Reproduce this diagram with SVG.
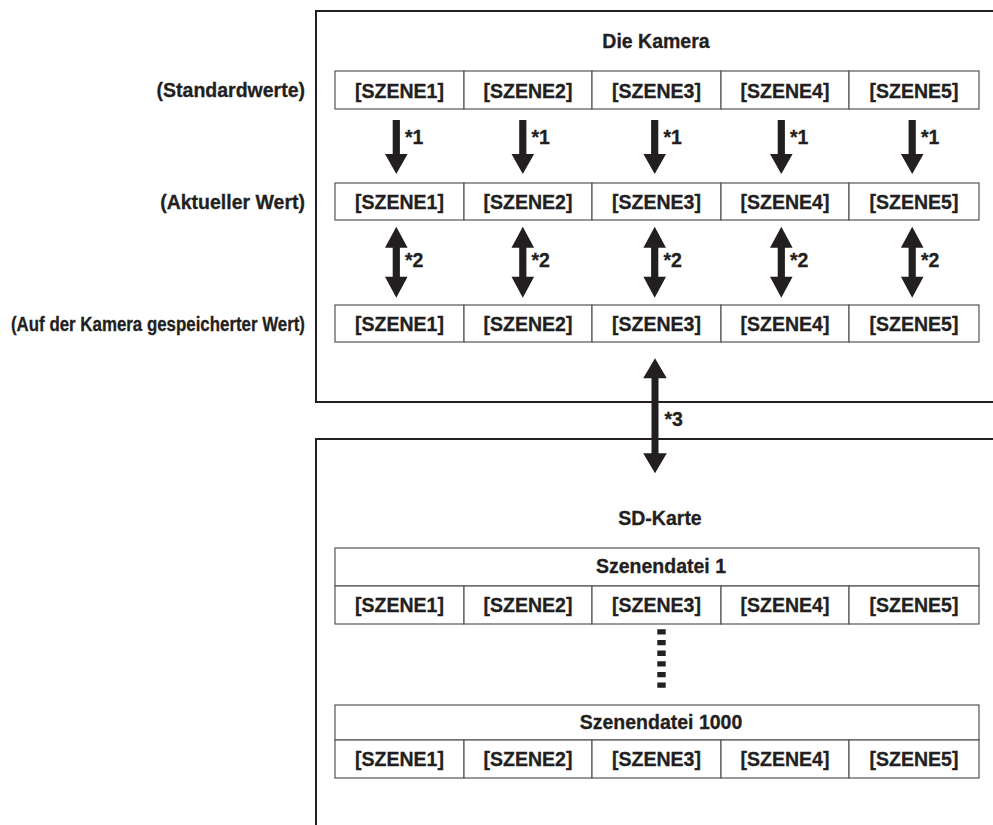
<svg xmlns="http://www.w3.org/2000/svg" width="993" height="825" viewBox="0 0 993 825">
<style>
text{font-family:"Liberation Sans",Arial,sans-serif;font-weight:bold;font-size:19.5px;fill:#231f20;stroke:#231f20;stroke-width:0.3}
.c{text-anchor:middle}
.r{text-anchor:end}
.cell{fill:#fff;stroke:#555;stroke-width:1.2}
.frame{fill:none;stroke:#231f20;stroke-width:2}
.arr{fill:#231f20}
</style>
<defs>
<path id="down" d="M-3.6,0 H3.6 V34 H11.3 L0,54 L-11.3,34 H-3.6 Z"/>
<path id="dbl" d="M0,0 L11.3,21 H3.6 V50 H11.3 L0,71 L-11.3,50 H-3.6 V21 H-11.3 Z"/>
<path id="dbl3" d="M0,0 L11.8,20 H3.5 V95 H11.8 L0,115 L-11.8,95 H-3.5 V20 H-11.8 Z"/>
</defs>
<rect width="993" height="825" fill="#fff"/>

<g id="camera-frame">
<path class="frame" d="M993,11 H316 V402 H993"/>
<text class="c" x="656" y="48">Die Kamera</text>
</g>
<g id="sd-frame">
<path class="frame" d="M993,439 H316 V825"/>
<text class="c" x="660" y="525">SD-Karte</text>
</g>

<g id="labels">
<text class="r" x="305" y="97">(Standardwerte)</text>
<text class="r" x="305" y="209">(Aktueller Wert)</text>
<text class="r" x="305" y="331" textLength="294" lengthAdjust="spacingAndGlyphs">(Auf der Kamera gespeicherter Wert)</text>
</g>

<g id="row-default">
<g id="d1"><rect class="cell" x="335" y="71" width="129" height="38"/><text class="c" x="399.5" y="97.5">[SZENE1]</text></g>
<g id="d2"><rect class="cell" x="464" y="71" width="128" height="38"/><text class="c" x="528" y="97.5">[SZENE2]</text></g>
<g id="d3"><rect class="cell" x="592" y="71" width="129" height="38"/><text class="c" x="656.5" y="97.5">[SZENE3]</text></g>
<g id="d4"><rect class="cell" x="721" y="71" width="128" height="38"/><text class="c" x="785" y="97.5">[SZENE4]</text></g>
<g id="d5"><rect class="cell" x="849" y="71" width="130" height="38"/><text class="c" x="914" y="97.5">[SZENE5]</text></g>
</g>

<g id="row-current">
<g id="a1"><rect class="cell" x="335" y="183" width="129" height="37"/><text class="c" x="399.5" y="209">[SZENE1]</text></g>
<g id="a2"><rect class="cell" x="464" y="183" width="128" height="37"/><text class="c" x="528" y="209">[SZENE2]</text></g>
<g id="a3"><rect class="cell" x="592" y="183" width="129" height="37"/><text class="c" x="656.5" y="209">[SZENE3]</text></g>
<g id="a4"><rect class="cell" x="721" y="183" width="128" height="37"/><text class="c" x="785" y="209">[SZENE4]</text></g>
<g id="a5"><rect class="cell" x="849" y="183" width="130" height="37"/><text class="c" x="914" y="209">[SZENE5]</text></g>
</g>

<g id="row-stored">
<g id="s1"><rect class="cell" x="335" y="305" width="129" height="37"/><text class="c" x="399.5" y="331">[SZENE1]</text></g>
<g id="s2"><rect class="cell" x="464" y="305" width="128" height="37"/><text class="c" x="528" y="331">[SZENE2]</text></g>
<g id="s3"><rect class="cell" x="592" y="305" width="129" height="37"/><text class="c" x="656.5" y="331">[SZENE3]</text></g>
<g id="s4"><rect class="cell" x="721" y="305" width="128" height="37"/><text class="c" x="785" y="331">[SZENE4]</text></g>
<g id="s5"><rect class="cell" x="849" y="305" width="130" height="37"/><text class="c" x="914" y="331">[SZENE5]</text></g>
</g>

<g id="file1">
<rect class="cell" x="335" y="548" width="644" height="38"/><text class="c" x="661" y="572.5">Szenendatei 1</text>
<g id="f1-1"><rect class="cell" x="335" y="586" width="129" height="38"/><text class="c" x="399.5" y="612">[SZENE1]</text></g>
<g id="f1-2"><rect class="cell" x="464" y="586" width="128" height="38"/><text class="c" x="528" y="612">[SZENE2]</text></g>
<g id="f1-3"><rect class="cell" x="592" y="586" width="129" height="38"/><text class="c" x="656.5" y="612">[SZENE3]</text></g>
<g id="f1-4"><rect class="cell" x="721" y="586" width="128" height="38"/><text class="c" x="785" y="612">[SZENE4]</text></g>
<g id="f1-5"><rect class="cell" x="849" y="586" width="130" height="38"/><text class="c" x="914" y="612">[SZENE5]</text></g>
</g>

<g id="file1000">
<rect class="cell" x="335" y="705" width="644" height="35"/><text class="c" x="661" y="728.5">Szenendatei 1000</text>
<g id="f2-1"><rect class="cell" x="335" y="740" width="129" height="38"/><text class="c" x="399.5" y="766">[SZENE1]</text></g>
<g id="f2-2"><rect class="cell" x="464" y="740" width="128" height="38"/><text class="c" x="528" y="766">[SZENE2]</text></g>
<g id="f2-3"><rect class="cell" x="592" y="740" width="129" height="38"/><text class="c" x="656.5" y="766">[SZENE3]</text></g>
<g id="f2-4"><rect class="cell" x="721" y="740" width="128" height="38"/><text class="c" x="785" y="766">[SZENE4]</text></g>
<g id="f2-5"><rect class="cell" x="849" y="740" width="130" height="38"/><text class="c" x="914" y="766">[SZENE5]</text></g>
</g>

<g id="connectors">
<use href="#down" class="arr" transform="translate(396.3,120)"/>
<use href="#down" class="arr" transform="translate(522.8,120)"/>
<use href="#down" class="arr" transform="translate(654.7,120)"/>
<use href="#down" class="arr" transform="translate(781.3,120)"/>
<use href="#down" class="arr" transform="translate(912.2,120)"/>
<text x="405" y="144">*1</text>
<text x="531.5" y="144">*1</text>
<text x="663.5" y="144">*1</text>
<text x="790" y="144">*1</text>
<text x="921" y="144">*1</text>
<use href="#dbl" class="arr" transform="translate(396.3,226.7)"/>
<use href="#dbl" class="arr" transform="translate(522.8,226.7)"/>
<use href="#dbl" class="arr" transform="translate(654.7,226.7)"/>
<use href="#dbl" class="arr" transform="translate(781.3,226.7)"/>
<use href="#dbl" class="arr" transform="translate(912.2,226.7)"/>
<text x="405" y="266.5">*2</text>
<text x="531.5" y="266.5">*2</text>
<text x="663.5" y="266.5">*2</text>
<text x="790" y="266.5">*2</text>
<text x="921" y="266.5">*2</text>
<use href="#dbl3" class="arr" transform="translate(655,358.3)"/>
<text x="664.5" y="426">*3</text>
<line x1="661.5" y1="629.3" x2="661.5" y2="688.5" stroke="#231f20" stroke-width="8.4" stroke-dasharray="5.3 5.35"/>
</g>
</svg>
